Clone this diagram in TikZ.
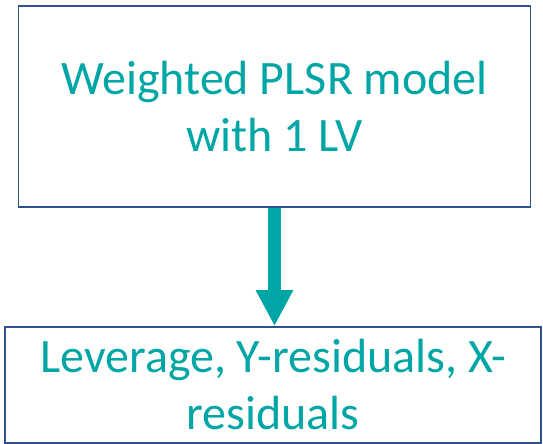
\documentclass[tikz,border=0pt]{standalone}
\usepackage{fontspec}
\setmainfont{Carlito}
\usepackage{xcolor}
\usetikzlibrary{positioning, arrows.meta}
\definecolor{frameblue}{HTML}{2F528F}
\definecolor{tealtext}{HTML}{00A5A5}

\begin{document}
\begin{tikzpicture}[x=1pt, y=1pt,
    stagebox/.style={draw=frameblue, line width=1.8pt, fill=white, inner sep=0pt,
        align=center, text=tealtext, font=\fontsize{48}{57}\selectfont},
    flowarrow/.style={draw=tealtext, line width=13pt,
        -{Triangle[width=35pt, length=36pt]}}]

\useasboundingbox (0,0) rectangle (543,-444);

% boxes
\node[stagebox, minimum width=512pt, minimum height=201pt]
    (model) at (274.5,-106.5) {Weighted PLSR model\\with 1 LV};
\node[stagebox, minimum width=536pt, minimum height=116pt]
    (diag) at (273,-385) {Leverage, Y-residuals, X-\\residuals};

% arrow
\draw[flowarrow] (model.south -| 274.5,0) -- (diag.north -| 274.5,0);

\end{tikzpicture}
\end{document}
